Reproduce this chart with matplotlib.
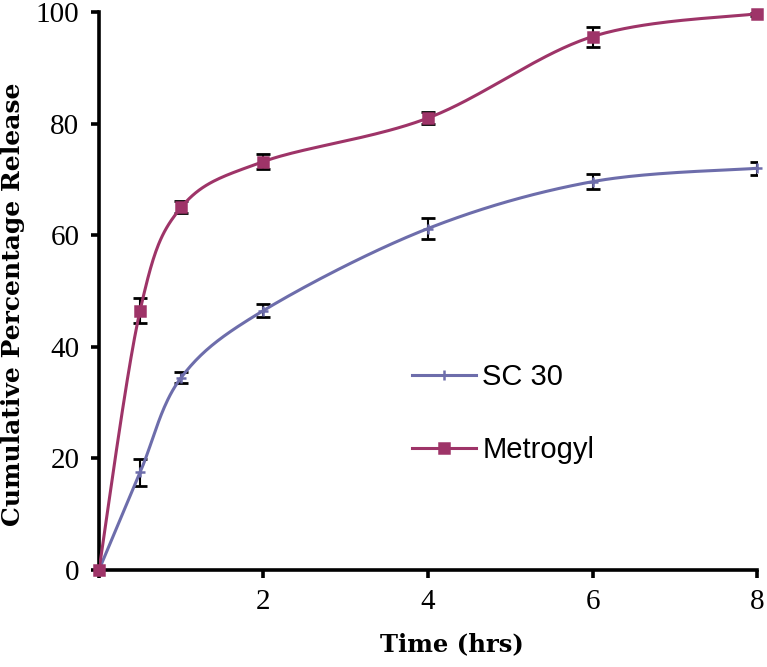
import numpy as np
import matplotlib
matplotlib.use("Agg")
import matplotlib.pyplot as plt

# data
time_hrs = [0, 0.5, 1, 2, 4, 6, 8]
sc30 = [0, 17.5, 34.5, 46.5, 61.2, 69.6, 72.0]
sc30_err = [0, 2.4, 1.0, 1.2, 1.9, 1.4, 1.2]
metrogyl = [0, 46.5, 65.0, 73.2, 81.0, 95.6, 99.7]
metrogyl_err = [0, 2.2, 1.1, 1.3, 1.0, 1.8, 0.5]

c_sc = "#6D6DAB"
c_met = "#9E3468"


def smooth(x, y, sx, sy, n=40):
    # excel-like smoothed line (catmull-rom via bezier), done in scaled space
    p = np.column_stack([np.asarray(x) * sx, np.asarray(y) * sy])
    pts = np.vstack([p[0], p, p[-1]])
    out = []
    t = np.linspace(0, 1, n)[:, None]
    for i in range(1, len(pts) - 2):
        p0, p1, p2, p3 = pts[i - 1], pts[i], pts[i + 1], pts[i + 2]
        c1 = p1 + (p2 - p0) / 6
        c2 = p2 - (p3 - p1) / 6
        seg = ((1 - t) ** 3) * p1 + 3 * ((1 - t) ** 2) * t * c1 + 3 * (1 - t) * t ** 2 * c2 + t ** 3 * p2
        out.append(seg)
    out = np.vstack(out)
    return out[:, 0] / sx, out[:, 1] / sy


fig = plt.figure(figsize=(7.67, 6.67), dpi=100)
ax = fig.add_axes([0.129, 0.1454, 0.858, 0.8366])

sx, sy = 658 / 8, 558 / 100
for y, err, col, mk, ms, lab in [
    (sc30, sc30_err, c_sc, "+", 7, "SC 30"),
    (metrogyl, metrogyl_err, c_met, "s", 7, "Metrogyl"),
]:
    ax.errorbar(time_hrs, y, yerr=err, fmt="none", ecolor="black",
                elinewidth=1.5, capsize=5, capthick=2, zorder=2)
    xs, ys = smooth(time_hrs, y, sx, sy)
    ax.plot(xs, ys, color=col, lw=2.2, zorder=3, solid_capstyle="round")
    ax.plot(time_hrs, y, ls="none", marker=mk, ms=ms, color=col, mew=1.8,
            zorder=4, clip_on=False)
    ax.plot([], [], color=col, lw=2.2, marker=mk, ms=ms, mew=1.8, label=lab)

ax.set_xlim(0, 8)
ax.set_ylim(0, 100)
ax.set_xticks([0, 2, 4, 6, 8])
ax.set_xticklabels(["", "2", "4", "6", "8"])
ax.set_yticks([0, 20, 40, 60, 80, 100])

for s in ["top", "right"]:
    ax.spines[s].set_visible(False)
for s in ["left", "bottom"]:
    ax.spines[s].set_linewidth(2.6)
ax.tick_params(length=6, width=2.6, direction="out", labelsize=21, pad=8)
for t in ax.get_xticklabels() + ax.get_yticklabels():
    t.set_family("Liberation Serif")

ax.set_xlabel("Time (hrs)", family="DejaVu Serif", weight="bold", fontsize=17.5, labelpad=12)
ax.set_ylabel("Cumulative Percentage Release", family="DejaVu Serif", weight="bold",
              fontsize=18, labelpad=8)
ax.xaxis.label.set_x(0.536)
ax.yaxis.label.set_y(0.477)

ax.legend(loc="upper left", bbox_to_anchor=(0.476, 0.371), frameon=False,
          prop={"family": "Liberation Sans", "size": 21}, handlelength=2.2,
          handletextpad=0.2, labelspacing=1.55, borderpad=0, borderaxespad=0)

fig.savefig("out.png", dpi=100)
